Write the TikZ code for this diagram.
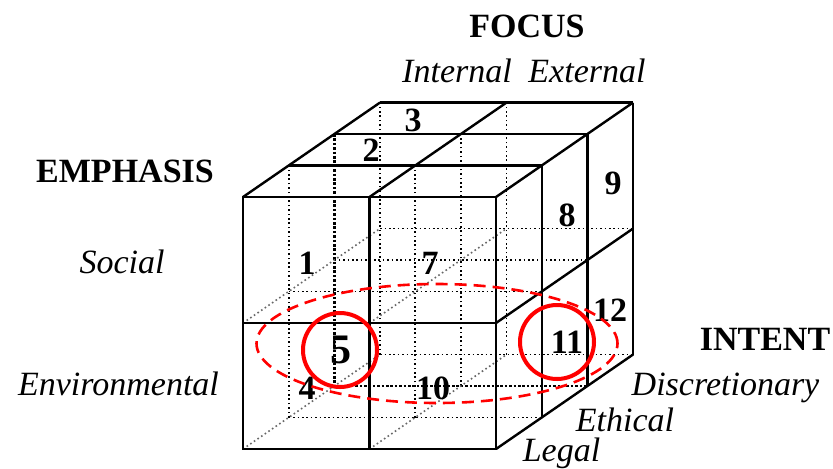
\documentclass[tikz,border=0pt]{standalone}
\usepackage{fontspec}
\setmainfont{Liberation Serif}
\usepackage{tikz}
\usepackage{xcolor}

\begin{document}
\begin{tikzpicture}[x={(63.25pt,0pt)}, y={(0pt,63pt)}, z={(22.85pt,15.75pt)},
    edge/.style={line width=1.2pt},
    hidden/.style={line width=0.8pt, dash pattern=on 0.8pt off 1.4pt},
    hiddenbold/.style={line width=1.3pt, dash pattern=on 1.3pt off 0.9pt},
    depthline/.style={black!60, line width=0.8pt, dash pattern=on 0.8pt off 1.4pt},
    num/.style={font=\fontsize{17}{20}\selectfont\bfseries},
    lab/.style={font=\fontsize{17}{20}\selectfont\itshape},
    head/.style={font=\fontsize{17}{20}\selectfont\bfseries}]
    \useasboundingbox (-121.5pt,-9.5pt) rectangle (295pt,224.5pt);

    % hidden lines inside the cube
    \foreach \k in {1,3} {
        \draw[hidden] (0,0,\k) -- (2,0,\k);
        \draw[hidden] (0,0,\k) -- (0,2,\k);
    }
    \foreach \k in {1,2,3} {
        \draw[hidden] (0,1,\k) -- (2,1,\k);
        \draw[hidden] (1,0,\k) -- (1,2,\k);
    }
    \draw[hiddenbold] (0,2,2) -- (0,0,2) -- (2,0,2);
    \foreach \i in {0,1}
        \foreach \j in {0,1}
            \draw[depthline] (\i,\j,0) -- (\i,\j,3);

    % front face
    \draw[edge] (0,0,0) -- (2,0,0) -- (2,2,0) -- (0,2,0) -- cycle;
    \draw[edge] (1,0,0) -- (1,2,0);
    \draw[edge] (0,1,0) -- (2,1,0);

    % top face
    \foreach \k in {1,2,3}
        \draw[edge] (0,2,\k) -- (2,2,\k);
    \foreach \i in {0,1,2}
        \draw[edge] (\i,2,0) -- (\i,2,3);

    % right face
    \foreach \k in {1,2,3}
        \draw[edge] (2,0,\k) -- (2,2,\k);
    \foreach \j in {0,1}
        \draw[edge] (2,\j,0) -- (2,\j,3);

    % cell numbers
    \node[num] (n1) at (32pt,93pt) {1};
    \node[num] (n2) at (64pt,149.5pt) {2};
    \node[num] (n3) at (85pt,164.5pt) {3};
    \node[num] (n4) at (32pt,30.5pt) {4};
    \node[num, font=\fontsize{21}{24}\selectfont\bfseries] (n5) at (49pt,49.5pt) {5};
    \node[num] (n7) at (93.5pt,93pt) {7};
    \node[num] (n8) at (162pt,117pt) {8};
    \node[num] (n9) at (185pt,133pt) {9};
    \node[num] (n10) at (95pt,30.5pt) {10};
    \node[num] (n11) at (162pt,53.5pt) {11};
    \node[num] (n12) at (183.5pt,69.5pt) {12};

    % axis labels
    \node[head] (focus) at (142pt,211.5pt) {FOCUS};
    \node[lab] (internal) at (107pt,189pt) {Internal};
    \node[lab] (external) at (172pt,189pt) {External};
    \node[head] (emphasis) at (-59pt,139pt) {EMPHASIS};
    \node[lab] (social) at (-60.5pt,93.5pt) {Social};
    \node[lab] (environmental) at (-62.25pt,32.5pt) {Environmental};
    \node[head] (intent) at (261pt,55pt) {INTENT};
    \node[lab] (discretionary) at (241.25pt,30.75pt) {Discretionary};
    \node[lab] (ethical) at (191pt,14.5pt) {Ethical};
    \node[lab] (legal) at (159.25pt,-2.25pt) {Legal};

    % highlighted cells
    \draw[red, line width=1.3pt, dash pattern=on 6pt off 3.5pt] (97pt,52.75pt) ellipse (90.25pt and 29.75pt);
    \draw[red, line width=2pt] (48.5pt,49.5pt) circle (18.5pt);
    \draw[red, line width=2pt] (157pt,53.5pt) circle (18.5pt);
\end{tikzpicture}
\end{document}
